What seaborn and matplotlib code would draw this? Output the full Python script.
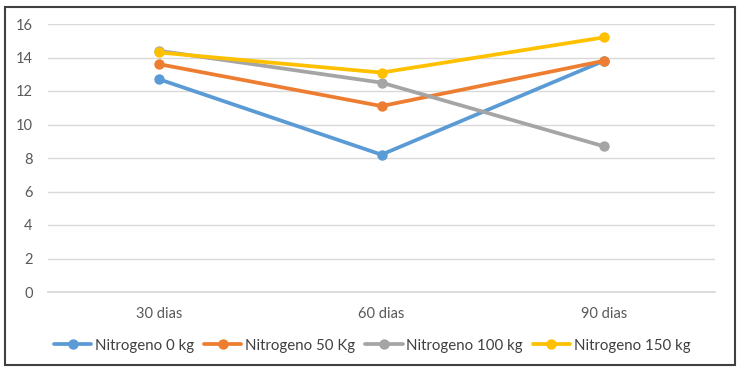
import matplotlib
matplotlib.use("Agg")
import matplotlib.pyplot as plt
import seaborn as sns
import pandas as pd
from matplotlib.patches import Rectangle

categories = ["30 dias", "60 dias", "90 dias"]
series_names = ["Nitrogeno 0 kg", "Nitrogeno 50 Kg", "Nitrogeno 100 kg", "Nitrogeno 150 kg"]
n0 = [12.7, 8.2, 13.8]
n50 = [13.6, 11.1, 13.8]
n100 = [14.4, 12.5, 8.7]
n150 = [14.3, 13.1, 15.2]
yticks = [0, 2, 4, 6, 8, 10, 12, 14, 16]
colors = ["#5B9BD5", "#ED7D31", "#A5A5A5", "#FFC000"]

rows = []
for name, vals in zip(series_names, [n0, n50, n100, n150]):
    for i, (c, v) in enumerate(zip(categories, vals)):
        rows.append({"x": i, "cat": c, "value": v, "series": name})
df = pd.DataFrame(rows)

sns.set_theme(style="white")
plt.rcParams["font.family"] = ["Lato", "DejaVu Sans"]

fig = plt.figure(figsize=(7.4, 3.72), dpi=100)
ax = fig.add_axes([48/740, 1-292/372, (715-48)/740, (292-24)/372])

sns.lineplot(data=df, x="x", y="value", hue="series", hue_order=series_names,
             palette=colors, marker="o", markersize=7.5, markeredgewidth=0,
             linewidth=2.7, ax=ax, legend=True)

ax.set_xlim(-0.5, 2.5)
ax.set_ylim(0, 16)
ax.set_yticks(yticks)
ax.set_yticklabels([str(t) for t in yticks], color="#595959", fontsize=10.5)
ax.set_xticks(range(len(categories)))
ax.set_xticklabels(categories, color="#595959", fontsize=10.5)
ax.set_xlabel("")
ax.set_ylabel("")
ax.grid(axis="y", color="#D9D9D9", linewidth=1)
ax.grid(axis="x", visible=False)
ax.set_axisbelow(True)
for s in ["top", "right", "left"]:
    ax.spines[s].set_visible(False)
ax.spines["bottom"].set_color("#D9D9D9")
ax.tick_params(axis="y", length=0, pad=11)
ax.tick_params(axis="x", length=0, pad=11)

handles, labels = ax.get_legend_handles_labels()
ax.legend(handles, labels, loc="center", bbox_to_anchor=(0.486, -0.2), ncol=4,
          frameon=False, fontsize=10.8, handlelength=2.5, handletextpad=0.25,
          columnspacing=0.65, labelcolor="#404040")

fig.patches.append(Rectangle((5/740, 1-365/372), 730/740, 358/372, transform=fig.transFigure,
                             fill=False, edgecolor="#404040", linewidth=1.5))

fig.savefig("out.png", dpi=100)
